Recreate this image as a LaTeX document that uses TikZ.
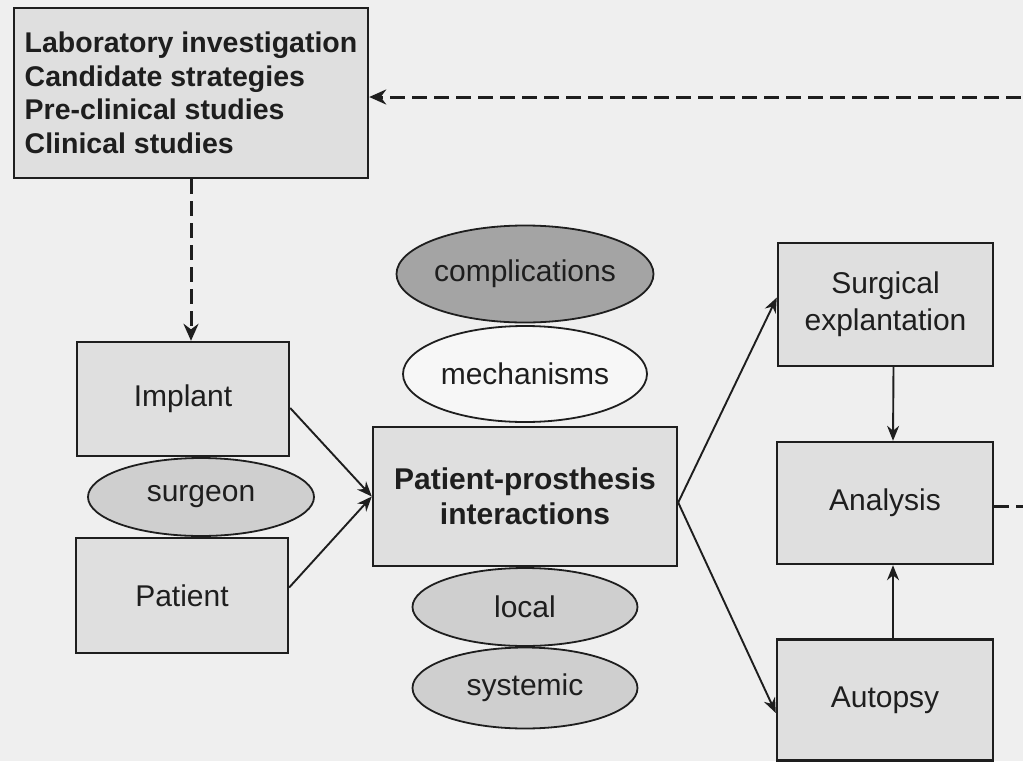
\documentclass[tikz,border=0pt]{standalone}
\usepackage{fontspec}
\setmainfont{Liberation Sans}
\usetikzlibrary{arrows.meta,shapes.geometric}
\definecolor{bg}{HTML}{EFEFEF}
\definecolor{boxfill}{HTML}{DFDFDF}
\definecolor{darkoval}{HTML}{A4A4A4}
\definecolor{midoval}{HTML}{CFCFCF}
\definecolor{lightoval}{HTML}{F7F7F7}
\definecolor{ink}{HTML}{1E1E1E}
\begin{document}
\begin{tikzpicture}[x=1pt,y=-1pt,
  box/.style={draw=ink, line width=2.4pt, fill=boxfill, text=ink, inner sep=0pt,
    align=center, font=\fontsize{30}{37}\selectfont},
  oval/.style={ellipse, draw=ink, line width=1.8pt, inner sep=0pt, text=ink,
    font=\fontsize{30}{36}\selectfont},
  arr/.style={draw=ink, line width=1.9pt, -{Stealth[length=15pt,width=12pt]}},
  dasharr/.style={draw=ink, line width=3pt, dash pattern=on 15pt off 7pt,
    -{Stealth[length=17pt,width=15pt]}}
]
\useasboundingbox (0,0) rectangle (1023,761);
\fill[bg] (0,0) rectangle (1023,761);
\clip (0,0) rectangle (1023,761);

% top box
\node[box, align=left, minimum width=354pt, minimum height=170pt,
  font=\fontsize{28.5}{33.6}\selectfont\bfseries] (top) at (191,93)
  {Laboratory investigation\\Candidate strategies\\Pre-clinical studies\\Clinical studies};

% left column
\node[box, minimum width=212pt, minimum height=114pt] (imp) at (183,399) {Implant};
\node[box, minimum width=212pt, minimum height=115pt] (pat) at (182,595.5) {Patient};
\node[oval, fill=midoval, minimum width=226pt, minimum height=78pt] (surg) at (201,497) {surgeon};

% centre column
\node[box, minimum width=304pt, minimum height=139pt, font=\fontsize{30}{35}\selectfont\bfseries]
  (ppi) at (525,496.5) {Patient-prosthesis\\interactions};
\node[oval, fill=darkoval, minimum width=244pt, minimum height=97pt] (comp) at (525,274) {complications};
\node[oval, fill=lightoval, minimum width=244pt, minimum height=96pt] (mech) at (525,374) {mechanisms};
\node[oval, fill=midoval, minimum width=225pt, minimum height=78pt] (loc) at (525,607) {local};
\node[oval, fill=midoval, minimum width=225pt, minimum height=81pt] (sys) at (525,688) {systemic};

% right column
\node[box, minimum width=215pt, minimum height=123pt] (expl) at (885.5,304.5) {Surgical\\explantation};
\node[box, minimum width=216pt, minimum height=122pt] (ana) at (885,503) {Analysis};
\node[box, minimum width=216pt, minimum height=121pt] (aut) at (885,700) {Autopsy};

% connectors
\draw[arr] ([yshift=-9pt]imp.east) -- (ppi.west);
\draw[arr] ([yshift=8pt]pat.east) -- (ppi.west);
\draw[arr] ([yshift=-6pt]ppi.east) -- ([yshift=7pt]expl.west);
\draw[arr] ([yshift=-6pt]ppi.east) -- ([yshift=-13pt]aut.west);
\draw[arr] ([xshift=8pt]expl.south) -- ([xshift=8pt]ana.north);
\draw[arr] ([xshift=8pt]aut.north) -- ([xshift=8pt]ana.south);

\draw[dasharr] (top.south) -- (top.south |- imp.north);

\coordinate (r1) at (1045,506);
\coordinate (r2) at (1045,97);
\draw[dasharr] ([yshift=-3pt]ana.east) -- (r1) -- (r2) -- ([yshift=-4pt]top.east);
\end{tikzpicture}
\end{document}
